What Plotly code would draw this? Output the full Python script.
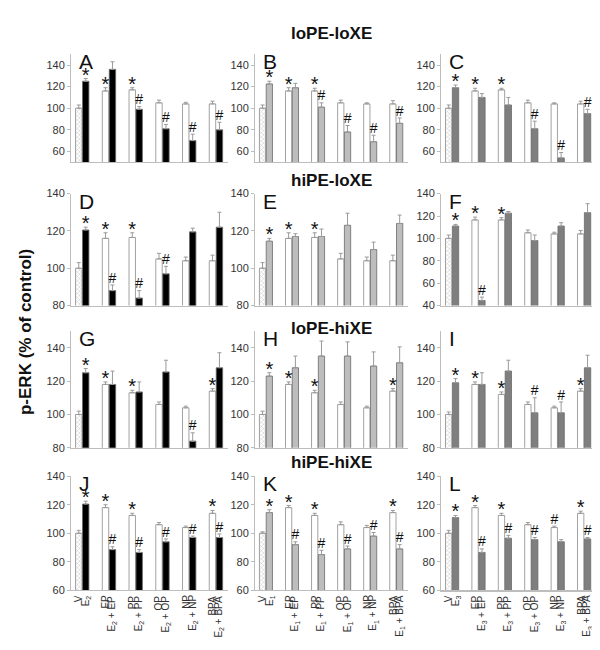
import plotly.graph_objects as go

W, H = 600, 650
FONT = "Liberation Sans, Arial, sans-serif"

# ---------------- data ----------------
group_names = ["V", "EP", "PP", "OP", "NP", "BPA"]
estrogens = ["E<sub>2</sub>", "E<sub>1</sub>", "E<sub>3</sub>"]
row_titles = ["loPE-loXE", "hiPE-loXE", "loPE-hiXE", "hiPE-hiXE"]
panel_letters = ["A", "B", "C", "D", "E", "F", "G", "H", "I", "J", "K", "L"]

A_white = [100, 116, 117, 105, 104, 104]
A_white_err = [3, 3, 2, 2.5, 1.5, 2.5]
A_treat = [125, 136, 99, 81, 70, 80]
A_treat_err = [2.5, 7, 2.5, 4, 6, 7]
A_sig_white = ["", "*", "*", "", "", ""]
A_sig_treat = ["*", "", "#", "#", "#", "#"]

B_white = [100, 116, 116, 105, 104, 104]
B_white_err = [3, 3, 2.5, 2.5, 1, 3]
B_treat = [122.5, 119, 101, 78, 69, 86]
B_treat_err = [2.5, 4, 4, 6, 6, 5]
B_sig_white = ["", "*", "*", "", "", ""]
B_sig_treat = ["*", "", "#", "#", "#", "#"]

C_white = [100, 116, 117, 105, 104, 104]
C_white_err = [3, 2.5, 1.5, 2.5, 1, 2.5]
C_treat = [119, 110, 103, 81, 54, 95]
C_treat_err = [2.5, 3.5, 7, 7, 5, 4]
C_sig_white = ["", "*", "*", "", "", ""]
C_sig_treat = ["*", "", "", "#", "#", "#"]

D_white = [100, 116, 116.5, 105, 104, 104]
D_white_err = [3, 3, 2.5, 3, 2, 3]
D_treat = [120.5, 88, 84, 97, 119.5, 122]
D_treat_err = [1.5, 3, 4, 4, 2, 8]
D_sig_white = ["", "*", "*", "", "", ""]
D_sig_treat = ["*", "#", "#", "#", "", ""]

E_white = [100, 116, 116.5, 105, 104, 104]
E_white_err = [3, 3, 2.5, 3, 2, 3]
E_treat = [114.5, 117, 117, 123, 110, 124]
E_treat_err = [1.5, 1.5, 4, 6.5, 4, 4.5]
E_sig_white = ["", "*", "*", "", "", ""]
E_sig_treat = ["*", "", "", "", "", ""]

F_white = [100, 116.5, 116.5, 105, 104, 104]
F_white_err = [3, 2.5, 2, 2.5, 1.5, 3]
F_treat = [111, 44.5, 122.5, 98, 111, 123]
F_treat_err = [1.5, 3, 1.5, 5, 3, 8]
F_sig_white = ["", "*", "*", "", "", ""]
F_sig_treat = ["*", "#", "", "", "", ""]

G_white = [100, 118, 113, 106, 104, 114]
G_white_err = [2, 1.5, 1.5, 1.5, 1, 1.5]
G_treat = [125, 118, 113.5, 125.5, 84, 128]
G_treat_err = [2.5, 8, 6, 7, 5, 9]
G_sig_white = ["", "*", "*", "", "", "*"]
G_sig_treat = ["*", "", "", "", "#", ""]

H_white = [100, 118, 113, 106, 104, 114]
H_white_err = [2, 1.5, 1.5, 1.5, 1, 1.5]
H_treat = [123, 128, 135, 135, 129, 131]
H_treat_err = [2, 7, 9, 8.5, 8.5, 9.5]
H_sig_white = ["", "*", "*", "", "", "*"]
H_sig_treat = ["*", "", "", "", "", ""]

I_white = [100, 118, 112, 106, 104, 114]
I_white_err = [1.5, 1.5, 1.5, 1.5, 1, 1.5]
I_treat = [119, 118, 126, 101, 101, 128]
I_treat_err = [2.5, 7, 6.5, 9, 6.5, 7.5]
I_sig_white = ["", "*", "*", "", "", "*"]
I_sig_treat = ["*", "", "", "#", "#", ""]

J_white = [100, 118, 112.5, 106, 104, 114]
J_white_err = [2, 2, 1.5, 1.5, 1, 2]
J_treat = [120.5, 88.5, 86.5, 94, 97, 97]
J_treat_err = [2, 2, 2, 2, 1, 2.5]
J_sig_white = ["", "*", "*", "", "", "*"]
J_sig_treat = ["*", "#", "#", "#", "#", "#"]

K_white = [100, 118, 112.5, 106, 104, 114.5]
K_white_err = [1, 1.5, 1.5, 2, 1.5, 1.5]
K_treat = [114.5, 92, 85, 89, 98, 89]
K_treat_err = [2, 2, 3, 2, 2.5, 3]
K_sig_white = ["", "*", "*", "", "", "*"]
K_sig_treat = ["*", "#", "#", "#", "#", "#"]

L_white = [100, 118, 112.5, 106, 104, 114]
L_white_err = [2, 1.5, 1.5, 1.5, 1, 1.5]
L_treat = [111, 86.5, 96.5, 95.5, 94, 96]
L_treat_err = [1.5, 2.5, 2, 1.5, 1.5, 1]
L_sig_white = ["", "*", "*", "", "#", "*"]
L_sig_treat = ["*", "#", "#", "#", "", "#"]

row_yranges = [[50, 150], [80, 140], [80, 150], [60, 140]]
row_ticks = [[60, 80, 100, 120, 140], [80, 100, 120, 140], [80, 100, 120, 140], [60, 80, 100, 120, 140]]
F_yrange = [40, 140]
F_ticks = [40, 60, 80, 100, 120, 140]

treat_colors = ["#000000", "#bdbdbd", "#7f7f7f"]

# ---------------- layout geometry (pixels) ----------------
col_px = [(63, 220), (247, 400), (433, 588)]
row_px = [(41, 151), (183, 297), (323, 442), (471, 587)]
title_y_px = [20, 170, 320, 457]

panels = [
    (A_white, A_white_err, A_treat, A_treat_err, A_sig_white, A_sig_treat),
    (B_white, B_white_err, B_treat, B_treat_err, B_sig_white, B_sig_treat),
    (C_white, C_white_err, C_treat, C_treat_err, C_sig_white, C_sig_treat),
    (D_white, D_white_err, D_treat, D_treat_err, D_sig_white, D_sig_treat),
    (E_white, E_white_err, E_treat, E_treat_err, E_sig_white, E_sig_treat),
    (F_white, F_white_err, F_treat, F_treat_err, F_sig_white, F_sig_treat),
    (G_white, G_white_err, G_treat, G_treat_err, G_sig_white, G_sig_treat),
    (H_white, H_white_err, H_treat, H_treat_err, H_sig_white, H_sig_treat),
    (I_white, I_white_err, I_treat, I_treat_err, I_sig_white, I_sig_treat),
    (J_white, J_white_err, J_treat, J_treat_err, J_sig_white, J_sig_treat),
    (K_white, K_white_err, K_treat, K_treat_err, K_sig_white, K_sig_treat),
    (L_white, L_white_err, L_treat, L_treat_err, L_sig_white, L_sig_treat),
]

BW = 0.24      # bar width (category units)
GAP = 0.02     # gap between paired bars
XR = [-0.42, 5.45]
idx = list(range(len(group_names)))
x_white = [i - GAP / 2 - BW / 2 for i in idx]
x_treat = [i + GAP / 2 + BW / 2 for i in idx]

fig = go.Figure()
layout = dict(
    width=W, height=H, autosize=False,
    margin=dict(l=0, r=0, t=0, b=0),
    paper_bgcolor="white", plot_bgcolor="white",
    showlegend=False, barmode="overlay",
    font=dict(family=FONT, color="#222"),
)
annotations = []

for p, (wv, we, tv, te, sw, st) in enumerate(panels):
    r, c = divmod(p, 3)
    n = p + 1
    xa = "x" if n == 1 else f"x{n}"
    ya = "y" if n == 1 else f"y{n}"
    color = treat_colors[c]
    est = estrogens[c]
    x0, x1 = col_px[c]
    y0, y1 = row_px[r]
    yr = F_yrange if p == 5 else row_yranges[r]
    yt = F_ticks if p == 5 else row_ticks[r]
    units_per_px = (yr[1] - yr[0]) / (y1 - y0)

    fig.add_trace(go.Bar(
        x=x_white, y=wv, width=BW, xaxis=xa, yaxis=ya,
        marker=dict(
            color="white", line=dict(color="#8a8a8a", width=0.8),
            pattern=dict(shape=["x"] + [""] * (len(wv) - 1), size=3,
                         solidity=0.35, fgcolor="#9a9a9a", bgcolor="white"),
        ),
        error_y=dict(type="data", symmetric=False, array=we,
                     arrayminus=[0] * len(we), color="#9a9a9a", thickness=1, width=2),
        hoverinfo="skip",
    ))
    fig.add_trace(go.Bar(
        x=x_treat, y=tv, width=BW, xaxis=xa, yaxis=ya,
        marker=dict(color=color, line=dict(color="#6a6a6a", width=0.8)),
        error_y=dict(type="data", symmetric=False, array=te,
                     arrayminus=[0] * len(te), color="#9a9a9a", thickness=1, width=2),
        hoverinfo="skip",
    ))
    # significance marks just above the error-bar tops
    for mark, size, off_px in (("*", 20, 2), ("#", 14, 6)):
        mx, my = [], []
        for i in idx:
            if sw[i] == mark:
                mx.append(x_white[i]); my.append(wv[i] + we[i] + off_px * units_per_px)
            if st[i] == mark:
                mx.append(x_treat[i]); my.append(tv[i] + te[i] + off_px * units_per_px)
        if mx:
            fig.add_trace(go.Scatter(
                x=mx, y=my, text=[mark] * len(mx), mode="text",
                textposition="middle center",
                textfont=dict(family=FONT, size=size, color="#111"),
                xaxis=xa, yaxis=ya, cliponaxis=False, hoverinfo="skip",
            ))

    xaxis = dict(
        domain=[x0 / W, x1 / W], range=XR, anchor=ya,
        showline=True, linecolor="#bdbdbd", linewidth=2 if p == 11 else 1,
        showgrid=False, zeroline=False, fixedrange=True,
        showticklabels=False, ticks="",
    )
    yaxis = dict(
        domain=[1 - y1 / H, 1 - y0 / H], range=yr, anchor=xa,
        tickmode="array", tickvals=yt, ticks="outside", ticklen=3,
        tickcolor="#bdbdbd", showline=True, linecolor="#bdbdbd", linewidth=1,
        showgrid=False, zeroline=False, fixedrange=True,
        tickfont=dict(family=FONT, size=11, color="#333"),
    )
    layout["xaxis" if n == 1 else f"xaxis{n}"] = xaxis
    layout["yaxis" if n == 1 else f"yaxis{n}"] = yaxis

    # bottom-row category labels (rotated, ending just under the axis)
    if r == 3:
        for i, g in enumerate(group_names):
            for xv, lab in ((x_white[i], g), (x_treat[i], est if i == 0 else f"{est} + {g}")):
                annotations.append(dict(
                    text=lab, xref=xa, yref="paper", x=xv, y=1 - (y1 + 3) / H,
                    xanchor="center", yanchor="top", textangle=-90, showarrow=False,
                    font=dict(family=FONT, size=10, color="#333"),
                ))

    annotations.append(dict(
        text=panel_letters[p], xref="paper", yref="paper",
        x=(x0 + 6) / W, y=1 - (y0 - 6) / H, xanchor="left", yanchor="top",
        showarrow=False, font=dict(family=FONT, size=21, color="#111"),
    ))

for r, t in enumerate(row_titles):
    annotations.append(dict(
        text=f"<b>{t}</b>", xref="paper", yref="paper",
        x=323 / W, y=1 - title_y_px[r] / H, xanchor="center", yanchor="middle",
        showarrow=False, font=dict(family=FONT, size=17, color="#111"),
    ))

annotations.append(dict(
    text="<b>p-ERK (% of control)</b>", xref="paper", yref="paper",
    x=17 / W, y=1 - 324 / H, xanchor="center", yanchor="middle",
    textangle=-90, showarrow=False, font=dict(family=FONT, size=17, color="#111"),
))

layout["annotations"] = annotations
fig.update_layout(**layout)
fig.write_html("out.html")
